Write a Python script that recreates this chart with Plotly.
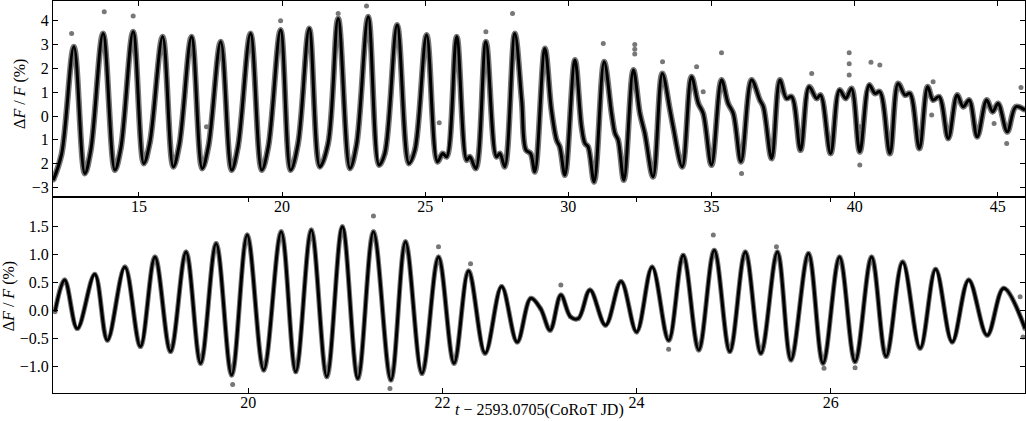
import plotly.graph_objects as go

# top panel: smoothed light curve (time, dF/F %)
top_t = [12.01, 12.30, 12.73, 13.11, 13.32, 13.75, 14.16, 14.37, 14.80, 15.17, 15.38, 15.83,
         16.20, 16.41, 16.84, 17.21, 17.43, 17.86, 18.24, 18.46, 18.90, 19.29, 19.52, 19.95,
         20.30, 20.56, 20.95, 21.32, 21.61, 21.96, 22.37, 22.60, 23.01, 23.39, 23.59, 24.02,
         24.43, 24.64, 25.05, 25.43, 25.61, 25.75, 26.10, 26.45, 26.56, 26.77, 27.12, 27.49,
         27.61, 27.78, 28.13, 28.37, 28.52, 28.68, 28.83, 29.18, 29.41, 29.59, 29.70, 29.88,
         30.23, 30.46, 30.58, 30.69, 30.90, 31.25, 31.51, 31.63, 31.74, 31.94, 32.27, 32.50,
         32.67, 32.96, 33.28, 33.55, 33.66, 33.98, 34.30, 34.54, 34.71, 35.00, 35.35, 35.58,
         35.76, 36.03, 36.40, 36.69, 36.81, 37.10, 37.39, 37.62, 37.80, 38.11, 38.41, 38.67,
         38.81, 39.16, 39.47, 39.69, 39.89, 40.18, 40.51, 40.71, 40.88, 41.23, 41.52, 41.76,
         41.93, 42.26, 42.55, 42.74, 42.95, 43.27, 43.58, 43.79, 44.00, 44.28, 44.61, 44.82,
         45.01, 45.33, 45.63, 45.95]
top_flux = [-2.69, -1.60, 2.91, -2.41, -1.43, 3.47, -2.27, -1.34, 3.54, -1.99, -1.13, 3.33,
            -2.13, -1.22, 3.33, -2.20, -1.26, 3.12, -2.27, -1.30, 3.47, -2.27, -1.29, 3.61,
            -2.27, -1.15, 3.68, -2.13, -1.15, 4.10, -2.20, -1.22, 4.17, -2.06, -1.57, 3.82,
            -1.99, -1.43, 3.40, -1.92, -1.57, -1.71, 3.33, -1.85, -1.71, -2.20, 3.12, -1.71,
            -1.57, -2.13, 3.47, 0.67, -1.43, -1.57, -2.34, 2.84, 0.25, -1.01, -1.29, -2.48,
            2.35, -0.45, -1.15, -1.29, -2.76, 2.28, 0.11, -0.73, -1.01, -2.69, 1.93, 0.11,
            -0.73, -2.55, 1.79, 0.25, -0.45, -2.13, 1.65, 0.53, 0.11, -2.06, 1.51, 0.53,
            0.11, -1.92, 1.51, 0.67, 0.39, -1.78, 1.51, 0.74, 0.81, -1.43, 1.23, 0.74,
            0.88, -1.57, 1.09, 0.74, 1.16, -1.50, 1.30, 0.95, 1.02, -1.57, 1.37, 0.88,
            0.95, -1.36, 1.23, 0.67, 0.81, -0.94, 0.88, 0.39, 0.67, -0.87, 0.67, 0.18,
            0.53, -0.66, 0.39, 0.25]

# top panel: stray photometry points standing off the curve
top_out_t = [12.65, 13.79, 14.80, 17.36, 19.95, 21.96, 22.95, 25.49, 27.12, 28.05, 31.22,
             32.32, 32.32, 32.32, 33.29, 34.48, 34.71, 35.35, 36.05, 38.50, 39.81, 39.81,
             39.81, 40.18, 40.18, 40.57, 40.88, 42.69, 42.74, 44.87, 45.31, 45.81]
top_out_flux = [3.47, 4.38, 4.20, -0.45, 4.00, 4.31, 4.62, -0.28, 3.54, 4.31, 3.05,
                3.00, 2.80, 2.60, 2.28, 2.07, 1.02, 2.66, -2.41, 1.79, 2.66, 2.20,
                1.72, -0.45, -2.06, 2.26, 2.14, 0.04, 1.44, -0.31, -1.15, 1.20]

# bottom panel: smoothed light curve
bot_t = [18.01, 18.11, 18.24, 18.42, 18.55, 18.73, 18.89, 19.04, 19.20, 19.36, 19.51, 19.67,
         19.83, 19.99, 20.16, 20.34, 20.49, 20.65, 20.81, 20.97, 21.13, 21.29, 21.47, 21.62,
         21.79, 21.96, 22.12, 22.27, 22.44, 22.61, 22.77, 22.91, 23.01, 23.11, 23.22, 23.32,
         23.40, 23.52, 23.68, 23.84, 24.00, 24.16, 24.33, 24.48, 24.64, 24.80, 24.96, 25.12,
         25.28, 25.45, 25.59, 25.77, 25.92, 26.09, 26.25, 26.42, 26.57, 26.74, 26.92, 27.08,
         27.25, 27.42, 27.61, 27.78, 28.00]
bot_flux = [-0.03, 0.54, -0.33, 0.64, -0.54, 0.77, -0.65, 0.95, -0.74, 1.04, -0.95, 1.19,
            -1.16, 1.34, -1.07, 1.40, -1.10, 1.43, -1.19, 1.49, -1.22, 1.40, -1.25, 1.22,
            -1.13, 0.95, -0.95, 0.70, -0.77, 0.42, -0.57, 0.21, 0.03, -0.36, 0.27, -0.12,
            -0.15, 0.36, -0.27, 0.51, -0.39, 0.77, -0.54, 0.98, -0.71, 1.07, -0.74, 1.04,
            -0.77, 1.04, -0.89, 1.01, -0.95, 0.95, -0.92, 0.95, -0.83, 0.86, -0.68, 0.73,
            -0.57, 0.54, -0.45, 0.39, -0.33]

bot_out_t = [19.84, 21.29, 21.46, 21.96, 22.29, 23.22, 24.33, 24.79, 25.44, 25.93, 26.25,
             27.95, 27.98]
bot_out_flux = [-1.33, 1.68, -1.40, 1.13, 0.83, 0.45, -0.70, 1.34, 1.13, -1.04, -1.03,
                0.24, -0.48]

top_xticks = [15, 20, 25, 30, 35, 40, 45]
top_yticks = [4, 3, 2, 1, 0, -1, -2, -3]
top_yticktext = ['4', '3', '2', '1', '0', '1', '2', '\u22123']
bot_xticks = [20, 22, 24, 26]
bot_yticks = [1.5, 1.0, 0.5, 0.0, -0.5, -1.0]
bot_yticktext = ['1.5', '1.0', '0.5', '0.0', '\u22120.5', '\u22121.0']

FONT = 'Liberation Serif'
GREY = '#777777'


def add_curve(fig, t, flux, out_t, out_flux, xa, ya, halo):
    # grey photometry hugging the curve
    fig.add_trace(go.Scatter(x=t, y=flux, mode='lines+markers', xaxis=xa, yaxis=ya,
                             line=dict(color=GREY, width=halo, shape='spline', smoothing=1),
                             marker=dict(color=GREY, size=5), showlegend=False))
    fig.add_trace(go.Scatter(x=out_t, y=out_flux, mode='markers', xaxis=xa, yaxis=ya,
                             marker=dict(color=GREY, size=5), showlegend=False))
    fig.add_trace(go.Scatter(x=t, y=flux, mode='lines', xaxis=xa, yaxis=ya,
                             line=dict(color='black', width=3, shape='spline', smoothing=1),
                             showlegend=False))


fig = go.Figure()
add_curve(fig, top_t, top_flux, top_out_t, top_out_flux, 'x', 'y', 6)
add_curve(fig, bot_t, bot_flux, bot_out_t, bot_out_flux, 'x2', 'y2', 5)

axis_style = dict(showline=True, linecolor='black', linewidth=1, mirror='ticks',
                  ticks='inside', ticklen=5, tickcolor='black', showgrid=False,
                  zeroline=False, tickfont=dict(family=FONT, size=16, color='black'))

fig.update_layout(
    width=1026, height=421,
    margin=dict(l=53, r=1, t=1, b=28),
    plot_bgcolor='white', paper_bgcolor='white',
    xaxis=dict(domain=[0, 1], anchor='y', range=[12.0, 45.95], tickvals=top_xticks,
               ticklabelstandoff=-5, **axis_style),
    yaxis=dict(domain=[0.5, 1], anchor='x', range=[-3.40, 4.83], tickvals=top_yticks,
               ticktext=top_yticktext, **axis_style),
    xaxis2=dict(domain=[0, 1], anchor='y2', range=[17.99, 28.0], tickvals=bot_xticks,
                ticklabelstandoff=-5, **axis_style),
    yaxis2=dict(domain=[0, 0.5], anchor='x2', range=[-1.48, 2.02], tickvals=bot_yticks,
                ticktext=bot_yticktext, **axis_style),
)

ylabel = '\u0394<i>F</i> / <i>F</i> (%)'
fig.add_annotation(text=ylabel, xref='paper', yref='paper', x=0, y=0.763, xshift=-33,
                   xanchor='center', yanchor='middle', textangle=-90, showarrow=False,
                   font=dict(family=FONT, size=16, color='black'))
fig.add_annotation(text=ylabel, xref='paper', yref='paper', x=0, y=0.247, xshift=-44,
                   xanchor='center', yanchor='middle', textangle=-90, showarrow=False,
                   font=dict(family=FONT, size=16, color='black'))
fig.add_annotation(text='<i>t</i> \u2212 2593.0705(CoRoT JD)', xref='paper', yref='paper',
                   x=0.5, y=0, yshift=-17, xanchor='center', yanchor='middle', showarrow=False,
                   font=dict(family=FONT, size=16, color='black'))

# page body has an 8px margin by default; drop it so the figure sits at the window corner
fig.write_html("out.html", config={'displayModeBar': False},
               post_script="document.body.style.margin='0';")
